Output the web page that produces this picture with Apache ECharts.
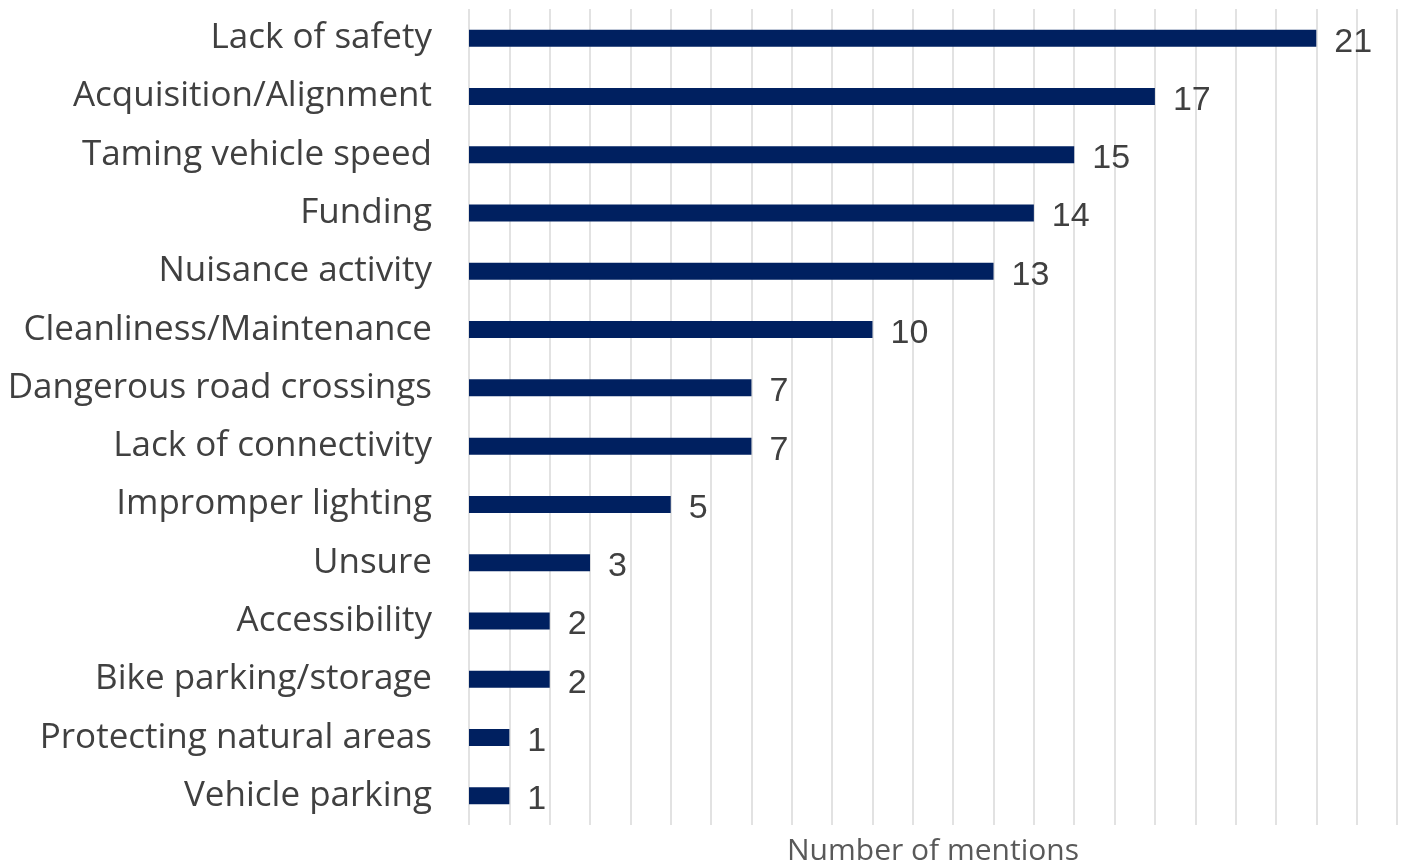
<!DOCTYPE html>
<html><head><meta charset="utf-8">
<script src="https://cdn.jsdelivr.net/npm/echarts@6/dist/echarts.min.js"></script>
<style>html,body{margin:0;padding:0;background:#fff}#c{width:1403px;height:867px}</style>
</head><body><div id="c"></div>
<script>
const categories = ["Lack of safety","Acquisition/Alignment","Taming vehicle speed","Funding","Nuisance activity","Cleanliness/Maintenance","Dangerous road crossings","Lack of connectivity","Impromper lighting","Unsure","Accessibility","Bike parking/storage","Protecting natural areas","Vehicle parking"];
const mentions = [21,17,15,14,13,10,7,7,5,3,2,2,1,1];
const axisTitle = "Number of mentions";

const chart = echarts.init(document.getElementById('c'), null, {renderer:'canvas'});
chart.setOption({
  animation:false,
  grid:{left:469,right:6,top:9,bottom:42,containLabel:false,outerBoundsMode:'none'},
  xAxis:{type:'value',min:0,max:23,interval:1,
    name:axisTitle,nameLocation:'middle',nameGap:11,
    nameTextStyle:{fontFamily:'Open Sans',fontSize:30,color:'#595959',verticalAlign:'top'},
    axisLabel:{show:false},axisLine:{show:false},axisTick:{show:false},
    splitLine:{show:true,lineStyle:{color:'#d9d9d9',width:1.5}}},
  yAxis:{type:'category',data:categories,inverse:true,
    axisLine:{show:false},axisTick:{show:false},
    axisLabel:{margin:37,fontFamily:'Open Sans',fontSize:35,color:'#404040'}},
  series:[{type:'bar',data:mentions,barWidth:17,
    itemStyle:{color:'#002060'},
    label:{show:true,position:'right',distance:18,fontFamily:'Liberation Sans',fontSize:34,color:'#404040',offset:[0,4]}}]
});
</script></body></html>
